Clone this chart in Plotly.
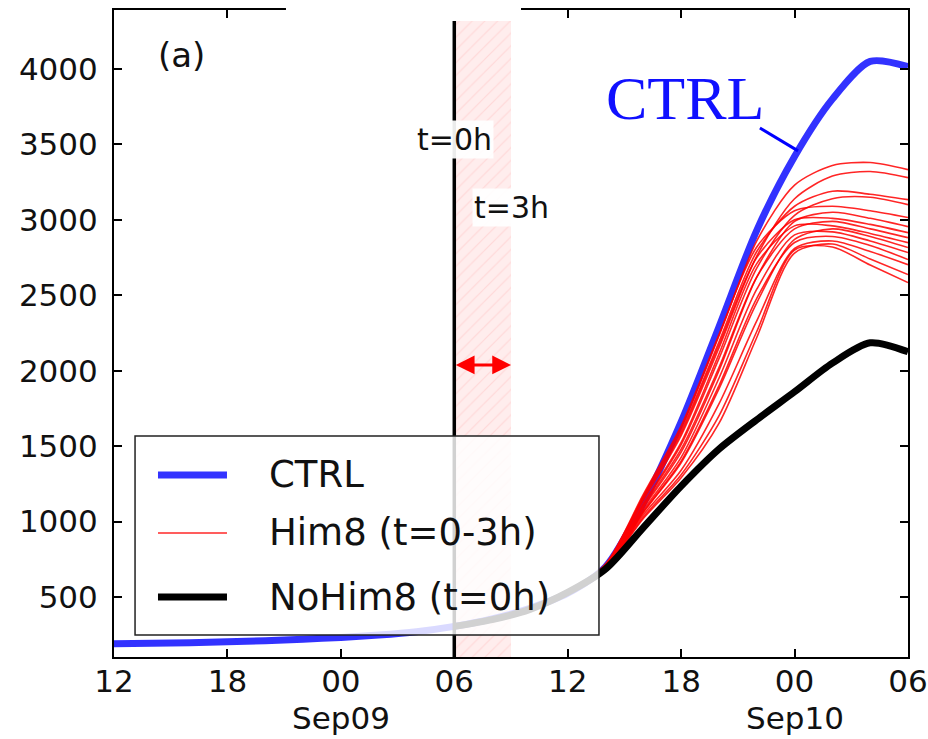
import plotly.graph_objects as go

# ---------------- data ----------------
times = ["2015-09-08 12:00", "2015-09-08 14:00", "2015-09-08 16:00", "2015-09-08 18:00",
         "2015-09-08 20:00", "2015-09-08 22:00", "2015-09-09 00:00", "2015-09-09 02:00",
         "2015-09-09 04:00", "2015-09-09 06:00", "2015-09-09 08:00", "2015-09-09 10:00",
         "2015-09-09 12:00", "2015-09-09 14:00", "2015-09-09 16:00", "2015-09-09 18:00",
         "2015-09-09 20:00", "2015-09-09 22:00", "2015-09-10 00:00", "2015-09-10 02:00",
         "2015-09-10 04:00", "2015-09-10 06:00"]
member_times = times[9:]

ctrl = [190, 193, 197, 203, 210, 220, 232, 248, 270, 305, 355, 425, 525, 700, 1120,
        1660, 2290, 2930, 3420, 3800, 4050, 4015]

nohim8 = [305, 350, 418, 530, 685, 960, 1235, 1480, 1675, 1860, 2050, 2185, 2125]

him8_members = [
    [305, 352, 424, 535, 715, 1170, 1620, 2230, 2860, 3230, 3360, 3380, 3333],
    [305, 351, 422, 530, 705, 1140, 1570, 2150, 2760, 3140, 3290, 3320, 3280],
    [306, 353, 424, 534, 712, 1160, 1600, 2190, 2790, 3090, 3190, 3170, 3134],
    [305, 351, 421, 528, 695, 1110, 1510, 2080, 2680, 3030, 3140, 3150, 3101],
    [306, 353, 425, 536, 718, 1180, 1635, 2240, 2820, 3060, 3090, 3060, 3015],
    [304, 350, 420, 526, 688, 1090, 1460, 2000, 2620, 2990, 3050, 3010, 2955],
    [305, 352, 423, 532, 708, 1150, 1585, 2170, 2750, 3000, 3010, 2970, 2915],
    [305, 350, 421, 528, 693, 1100, 1480, 2020, 2620, 2940, 2990, 2940, 2882],
    [306, 352, 423, 531, 700, 1120, 1525, 2110, 2710, 2960, 2960, 2910, 2849],
    [304, 349, 419, 524, 690, 1060, 1390, 1880, 2450, 2870, 2940, 2890, 2816],
    [305, 351, 421, 527, 695, 1075, 1425, 1950, 2540, 2900, 2920, 2860, 2783],
    [304, 350, 420, 525, 692, 1065, 1400, 1900, 2480, 2850, 2890, 2830, 2737],
    [305, 350, 420, 526, 693, 1045, 1340, 1780, 2330, 2810, 2860, 2790, 2703],
    [304, 349, 419, 525, 690, 1020, 1290, 1650, 2220, 2780, 2840, 2740, 2637],
    [305, 350, 420, 526, 692, 1030, 1310, 1700, 2260, 2800, 2820, 2700, 2584],
]

tick_vals = ["2015-09-08 12:00", "2015-09-08 18:00", "2015-09-09 00:00", "2015-09-09 06:00",
             "2015-09-09 12:00", "2015-09-09 18:00", "2015-09-10 00:00", "2015-09-10 06:00"]
tick_text = ["12", "18", "00", "06", "12", "18", "00", "06"]
date_labels = [("2015-09-09 00:00", "Sep09"), ("2015-09-10 00:00", "Sep10")]
y_ticks = [500, 1000, 1500, 2000, 2500, 3000, 3500, 4000]

legend_names = ["CTRL", "Him8 (t=0-3h)", "NoHim8 (t=0h)"]
legend_colors = ["rgba(0,0,255,0.8)", "rgba(255,0,0,0.85)", "black"]
legend_widths = [7, 1.6, 7]

t0 = "2015-09-09 06:00"
t3 = "2015-09-09 09:00"
y_range = [102, 4391]

# annotation anchors (data coords)
t0_label_y = 3530
t3_label_y = 3085
arrow_y = 2038
ctrl_label = ("2015-09-09 18:12", 3808)
ctrl_leader = ("2015-09-09 22:10", 3609, "2015-09-10 00:11", 3457)

FONT = "DejaVu Sans"
TXT = "#111111"

fig = go.Figure()

# hatched assimilation window t=0-3h
fig.add_trace(go.Scatter(
    x=[t0, t3, t3, t0, t0], y=[y_range[0], y_range[0], y_range[1], y_range[1], y_range[0]],
    fill="toself", mode="lines", line=dict(width=0),
    fillcolor="rgba(255,0,0,0.08)",
    fillpattern=dict(shape="/", fgcolor="rgba(255,140,140,0.45)", bgcolor="rgba(255,0,0,0.07)",
                     size=9, solidity=0.12),
    showlegend=False, hoverinfo="skip"))

fig.add_trace(go.Scatter(
    x=times, y=ctrl, mode="lines", name=legend_names[0], showlegend=False,
    line=dict(color="blue", width=7, shape="spline", smoothing=0.8), opacity=0.8))

for i, m in enumerate(him8_members):
    fig.add_trace(go.Scatter(
        x=member_times, y=m, mode="lines", name=legend_names[1], showlegend=False,
        line=dict(color="red", width=1.6, shape="spline", smoothing=0.8), opacity=0.85))

fig.add_trace(go.Scatter(
    x=member_times, y=nohim8, mode="lines", name=legend_names[2], showlegend=False,
    line=dict(color="black", width=7, shape="spline", smoothing=0.8)))

# t=0 vertical line
fig.add_shape(type="line", xref="x", yref="paper", x0=t0, x1=t0, y0=0, y1=1,
              line=dict(color="black", width=3.5), layer="above")

# CTRL leader line
fig.add_shape(type="line", xref="x", yref="y",
              x0=ctrl_leader[0], y0=ctrl_leader[1], x1=ctrl_leader[2], y1=ctrl_leader[3],
              line=dict(color="blue", width=3), layer="above")

# white box hiding the clipped title
fig.add_shape(type="rect", xref="paper", yref="paper", x0=0.2166, x1=0.5126, y0=0.983, y1=1.02,
              fillcolor="white", line=dict(width=0), layer="above")

# legend box (semi-transparent, matplotlib style)
fig.add_shape(type="rect", xref="paper", yref="paper", x0=0.0265, x1=0.6108, y0=0.034, y1=0.3416,
              fillcolor="rgba(255,255,255,0.82)", line=dict(color="#222", width=1.5), layer="above")
legend_rows = [0.2813, 0.1917, 0.0927]
for name, col, w, yy in zip(legend_names, legend_colors, legend_widths, legend_rows):
    fig.add_shape(type="line", xref="paper", yref="paper", x0=0.0554, x1=0.1423, y0=yy, y1=yy,
                  line=dict(color=col, width=w), layer="above")
    fig.add_annotation(x=0.1927, y=yy, xref="paper", yref="paper", text=name, showarrow=False,
                       xanchor="left", yanchor="middle",
                       font=dict(family=FONT, size=37, color=TXT))

# date labels under the 00 ticks
for dx, dtext in date_labels:
    fig.add_annotation(x=dx, y=-0.094, xref="x", yref="paper", text=dtext, showarrow=False,
                       xanchor="center", yanchor="middle",
                       font=dict(family=FONT, size=31, color=TXT))

fig.add_annotation(x=0.0856, y=0.931, xref="paper", yref="paper", text="(a)", showarrow=False,
                   xanchor="center", yanchor="middle",
                   font=dict(family=FONT, size=34, color=TXT))
fig.add_annotation(x=t0, y=t0_label_y, text="t=0h", showarrow=False,
                   font=dict(family=FONT, size=30, color=TXT), bgcolor="rgba(255,255,255,0.92)")
fig.add_annotation(x=t3, y=t3_label_y, text="t=3h", showarrow=False,
                   font=dict(family=FONT, size=30, color=TXT), bgcolor="rgba(255,255,255,0.92)")
fig.add_annotation(x=t3, y=arrow_y, ax=t0, ay=arrow_y, xref="x", yref="y", axref="x", ayref="y",
                   text="", showarrow=True, arrowhead=2, arrowside="end+start",
                   arrowwidth=3, arrowsize=1.25, arrowcolor="red")
fig.add_annotation(x=ctrl_label[0], y=ctrl_label[1], text="CTRL", showarrow=False,
                   font=dict(family="Liberation Serif", size=62, color="#1010ff"))

axis_common = dict(showline=True, linecolor="black", linewidth=2, mirror="ticks",
                   ticks="inside", ticklen=8, tickwidth=1.5, tickcolor="black",
                   showgrid=False, zeroline=False, automargin=False,
                   tickfont=dict(family=FONT, size=31, color=TXT))

fig.update_xaxes(type="date", range=[times[0], times[-1]], tickvals=tick_vals, ticktext=tick_text,
                 ticklabelstandoff=-4, **axis_common)
fig.update_yaxes(range=y_range, tickvals=y_ticks, ticklabelstandoff=8, **axis_common)

fig.update_layout(
    width=928, height=739,
    margin=dict(l=114, r=20, t=10, b=82),
    paper_bgcolor="white", plot_bgcolor="white",
    showlegend=False,
)

fig.write_html("out.html", config={"displayModeBar": False},
               post_script="document.body.style.margin='0px';document.body.style.overflow='hidden';")
